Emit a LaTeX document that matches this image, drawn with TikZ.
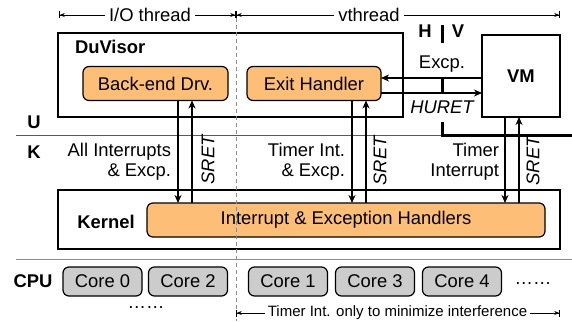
\documentclass[tikz,border=0pt]{standalone}
\usepackage{fontspec}
\setmainfont{Liberation Sans}
\usetikzlibrary{arrows.meta,calc}
\definecolor{orng}{RGB}{253,190,120}
\definecolor{coregray}{RGB}{204,204,204}
\begin{document}
\begin{tikzpicture}[x=1pt,y=-1pt,
  every node/.style={inner sep=0pt,outer sep=0pt},
  big/.style={font=\fontsize{18.4}{20}\selectfont},
  bigb/.style={font=\fontsize{18.4}{20}\selectfont\bfseries},
  small/.style={font=\fontsize{15}{17}\selectfont},
  plainbox/.style={draw,line width=1.2pt},
  orbox/.style={draw,line width=1.2pt,fill=orng,rounded corners=6pt,big},
  corebox/.style={draw,line width=1.2pt,fill=coregray,rounded corners=6pt,big,minimum width=79pt,minimum height=29pt},
  conn/.style={line width=1.2pt,-{Stealth[length=8pt,width=7pt,inset=2.5pt]}},
  dim/.style={line width=0.7pt,{Bar[width=7pt,line width=0.7pt]Stealth[length=5pt,width=4pt,inset=1.5pt]}-{Stealth[length=5pt,width=4pt,inset=1.5pt]Bar[width=7pt,line width=0.7pt]}},
  hv/.style={line width=3pt},
  sret/.style={font=\fontsize{18.4}{20}\selectfont\itshape,rotate=90}
]
\useasboundingbox (0,0) rectangle (572,321);

% separators
\draw[line width=1pt,black!65] (16,135) -- (572,135);
\draw[line width=1pt,black!45] (16,259) -- (572,259);

% boxes
\node[plainbox,minimum width=345pt,minimum height=84pt] (duv) at (230.5,75) {};
\node[bigb,anchor=west] (duvl) at (75,47) {DuVisor};
\node[orbox,minimum width=145pt,minimum height=34pt] (bd) at (155.5,83.5) {Back-end Drv.};
\node[orbox,minimum width=134pt,minimum height=34pt] (eh) at (314,83.5) {Exit Handler};
\node[plainbox,minimum width=78pt,minimum height=82pt,bigb] (vm) at (521,76) {VM};
\node[plainbox,minimum width=502pt,minimum height=59pt] (kern) at (309,219.5) {};
\node[bigb] (kernl) at (106,222) {Kernel};
\node[orbox,minimum width=398pt,minimum height=34pt] (ieh) at (346,220) {Interrupt \& Exception Handlers};

% cores
\node[bigb] (cpu) at (33,281.5) {CPU};
\node[corebox] (c0) at (102.5,281.5) {Core 0};
\node[corebox] (c2) at (188,281.5) {Core 2};
\node[corebox] (c1) at (288,281.5) {Core 1};
\node[corebox] (c3) at (375,281.5) {Core 3};
\node[corebox] (c4) at (462,281.5) {Core 4};
\node[big,anchor=base] (dotsr) at (533,284) {……};
\node[big,anchor=base] (dotsb) at (146,308) {……};

% U/K labels
\node[bigb] (ul) at (34,122) {U};
\node[bigb] (kl) at (34,152) {K};

% H/V boundary
\node[bigb] (hl) at (425,31) {H};
\node[bigb] (vl) at (458,31) {V};
\draw[hv] (442,25) -- (442,43);
\draw[hv] (442,79) -- (442,92);
\draw[hv] (442,122) -- (442,135.5) -- (572,135.5);

% horizontal arrows
\coordinate (ya) at (0,78);
\coordinate (yb) at (0,93);
\draw[conn] (vm.west |- ya) -- (eh.east |- ya);
\draw[conn] (eh.east |- yb) -- (vm.west |- yb);
\node[big] (excp) at (442,64) {Excp.};
\node[font=\fontsize{18.4}{20}\selectfont\itshape] (huret) at (442,107) {HURET};

% vertical arrows
\coordinate (x1) at (178,0);
\coordinate (x2) at (192,0);
\coordinate (x3) at (352,0);
\coordinate (x4) at (366,0);
\coordinate (x5) at (505,0);
\coordinate (x6) at (519,0);
\draw[conn] (bd.south -| x1) -- (ieh.north -| x1);
\draw[conn] (ieh.north -| x2) -- (bd.south -| x2);
\draw[conn] (eh.south -| x3) -- (ieh.north -| x3);
\draw[conn] (ieh.north -| x4) -- (eh.south -| x4);
\draw[conn] (vm.south -| x5) -- (ieh.north -| x5);
\draw[conn] (ieh.north -| x6) -- (vm.south -| x6);

\node[big,align=right,anchor=east] (l1) at (171,162) {All Interrupts\\\& Excp.};
\node[big,align=right,anchor=east] (l2) at (345,162) {Timer Int.\\\& Excp.};
\node[big,align=right,anchor=east] (l3) at (499,162) {Timer\\Interrupt};
\node[sret] (s1) at (208,160) {SRET};
\node[sret] (s2) at (380,161) {SRET};
\node[sret] (s3) at (533,161) {SRET};

% thread separator
\coordinate (dtop) at (236,18);
\coordinate (dbot) at (236,321);
\draw[line width=0.8pt,black!45,dash pattern=on 4pt off 3pt] (dtop) -- (dbot);

% dimension lines
\coordinate (t0) at (59,15);
\coordinate (t1) at (236,15);
\coordinate (t2) at (560,15);
\coordinate (b1) at (236,313);
\coordinate (b2) at (560,313);
\draw[dim] (t0) -- (t1);
\draw[dim] (t1) -- (t2);
\draw[dim] (b1) -- (b2);
\node[big,fill=white,inner xsep=4pt] (io) at (150,15) {I/O thread};
\node[big,fill=white,inner xsep=4pt] (vt) at (369,15) {vthread};
\node[small,fill=white,inner xsep=3pt] (tio) at (397.5,313) {Timer Int. only to minimize interference};
\end{tikzpicture}
\end{document}
